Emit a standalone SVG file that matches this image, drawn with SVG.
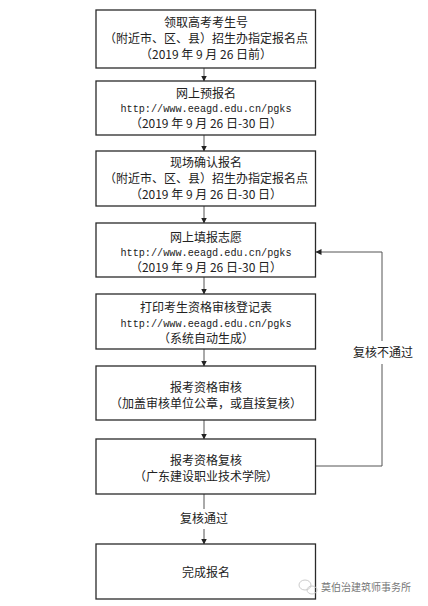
<svg xmlns="http://www.w3.org/2000/svg" width="428" height="606" viewBox="0 0 428 606">
<style>
.box{fill:#fff;stroke:#2a2a2a;stroke-width:1.3}
.t{font-family:"Noto Sans CJK SC","Liberation Sans",sans-serif;font-size:12px;fill:#222;text-anchor:middle}
.u{font-family:"Liberation Mono","DejaVu Sans Mono",monospace;font-size:10.2px;fill:#222;text-anchor:middle}
.c{fill:none;stroke:#555;stroke-width:1}
.wm{font-family:"Noto Sans CJK SC",sans-serif;font-size:10px;fill:#777}
</style>
<defs>
<marker id="ah" markerWidth="6" markerHeight="6" refX="5.5" refY="3" orient="auto" markerUnits="userSpaceOnUse">
<path d="M0,0 L6,3 L0,6 Z" fill="#222"/>
</marker>
</defs>
<rect width="428" height="606" fill="#fff"/>
<g id="connectors">
<line class="c" x1="204" y1="68" x2="204" y2="81" marker-end="url(#ah)"/>
<line class="c" x1="204" y1="135" x2="204" y2="151" marker-end="url(#ah)"/>
<line class="c" x1="204" y1="206" x2="204" y2="223" marker-end="url(#ah)"/>
<line class="c" x1="204" y1="277" x2="204" y2="294" marker-end="url(#ah)"/>
<line class="c" x1="204" y1="349" x2="204" y2="366" marker-end="url(#ah)"/>
<line class="c" x1="204" y1="420" x2="204" y2="439" marker-end="url(#ah)"/>
<line class="c" x1="204" y1="494" x2="204" y2="509"/>
<line class="c" x1="204" y1="529" x2="204" y2="544" marker-end="url(#ah)"/>
<text class="t" x="204" y="523">复核通过</text>
<polyline class="c" points="316,466 382,466 382,364"/>
<polyline class="c" points="382,341 382,252 316,252" marker-end="url(#ah)"/>
<text class="t" x="383" y="357">复核不通过</text>
</g>
<g id="n1">
<rect class="box" x="96" y="10" width="219.5" height="58"/>
<text class="t" x="206" y="27">领取高考考生号</text>
<text class="t" x="206" y="43">（附近市、区、县）招生办指定报名点</text>
<text class="t" x="206" y="59">（2019 年 9 月 26 日前）</text>
</g>
<g id="n2">
<rect class="box" x="96" y="81" width="219.5" height="54"/>
<text class="t" x="206" y="97.5">网上预报名</text>
<text class="u" x="206" y="112">http://www.eeagd.edu.cn/pgks</text>
<text class="t" x="206" y="127.5">（2019 年 9 月 26 日-30 日）</text>
</g>
<g id="n3">
<rect class="box" x="96" y="151" width="219.5" height="55"/>
<text class="t" x="206" y="167">现场确认报名</text>
<text class="t" x="206" y="183">（附近市、区、县）招生办指定报名点</text>
<text class="t" x="206" y="199">（2019 年 9 月 26 日-30 日）</text>
</g>
<g id="n4">
<rect class="box" x="96" y="223" width="219.5" height="54"/>
<text class="t" x="206" y="241.5">网上填报志愿</text>
<text class="u" x="206" y="256">http://www.eeagd.edu.cn/pgks</text>
<text class="t" x="206" y="271.5">（2019 年 9 月 26 日-30 日）</text>
</g>
<g id="n5">
<rect class="box" x="96" y="294" width="219.5" height="55"/>
<text class="t" x="206" y="311.5">打印考生资格审核登记表</text>
<text class="u" x="206" y="327">http://www.eeagd.edu.cn/pgks</text>
<text class="t" x="206" y="342.5">（系统自动生成）</text>
</g>
<g id="n6">
<rect class="box" x="96" y="366" width="219.5" height="54"/>
<text class="t" x="206" y="391.5">报考资格审核</text>
<text class="t" x="206" y="407.5">（加盖审核单位公章，或直接复核）</text>
</g>
<g id="n7">
<rect class="box" x="96" y="439" width="219.5" height="55"/>
<text class="t" x="206" y="464.5">报考资格复核</text>
<text class="t" x="206" y="480.5">（广东建设职业技术学院）</text>
</g>
<g id="n8">
<rect class="box" x="96" y="544" width="219.5" height="55"/>
<text class="t" x="206" y="576.5">完成报名</text>
</g>
<g id="watermark">
<ellipse cx="305" cy="585" rx="6" ry="5" fill="none" stroke="#ccc" stroke-width="1"/>
<ellipse cx="312" cy="590" rx="5" ry="4" fill="none" stroke="#ccc" stroke-width="1"/>
<text class="wm" x="321" y="591">莫伯治建筑师事务所</text>
</g>
</svg>
